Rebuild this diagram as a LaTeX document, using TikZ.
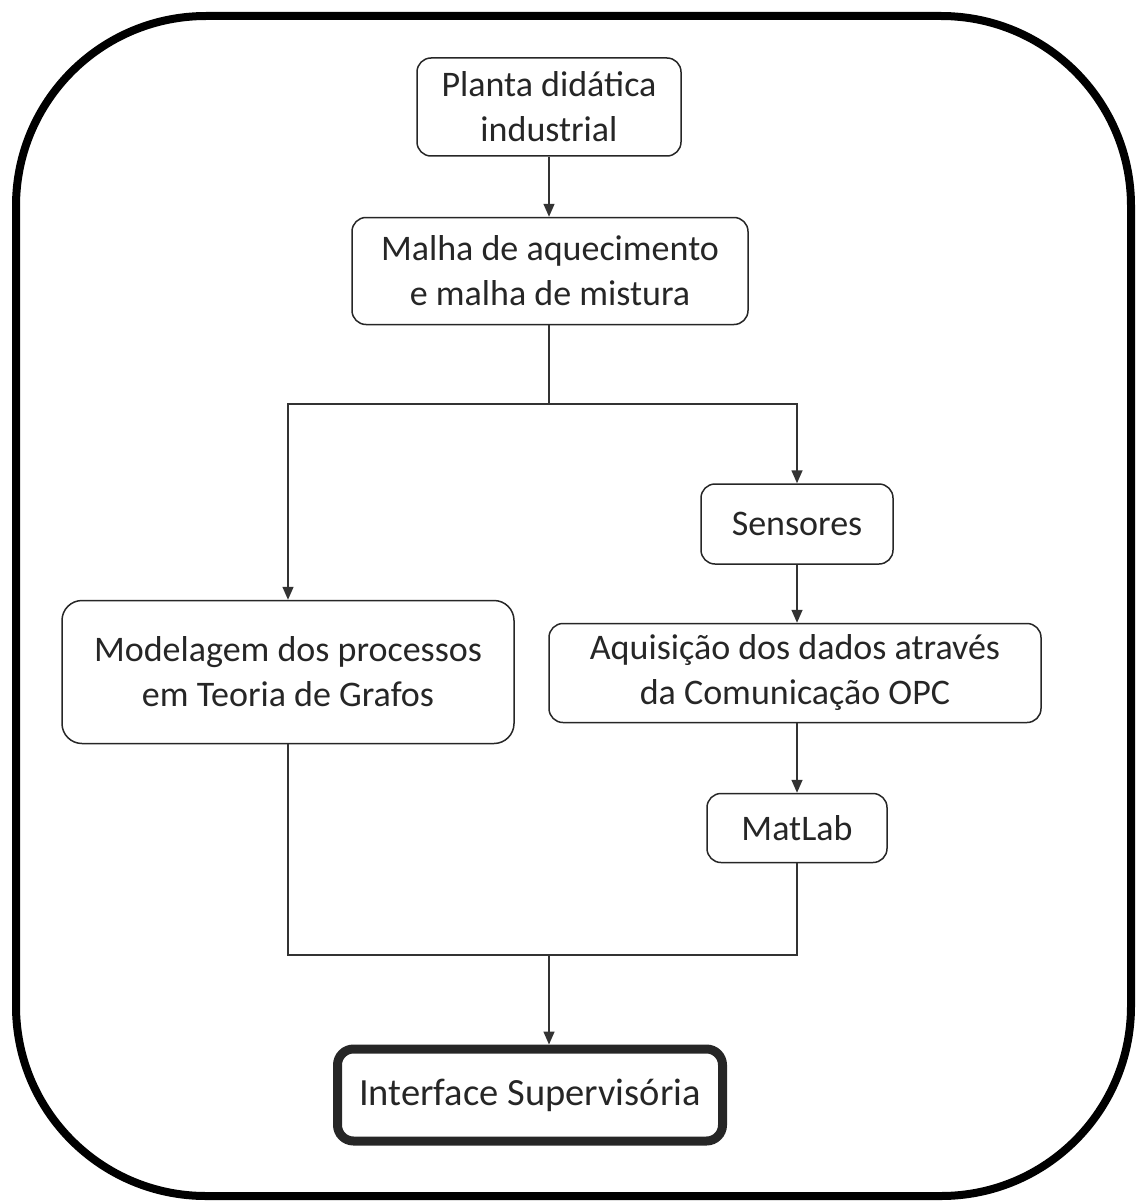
\documentclass[tikz,border=0pt]{standalone}
\usepackage{fontspec}
\setmainfont{Carlito}
\usetikzlibrary{arrows.meta}
\begin{document}
\begin{tikzpicture}[x=1pt,y=-1pt,
  box/.style={draw=black!85, line width=1.5pt, rounded corners=14pt, align=center, inner sep=0pt,
    font=\fontsize{36}{45}\selectfont, text=black!85},
  conn/.style={draw=black!80, line width=1.5pt},
  arr/.style={conn, -{Triangle[length=13pt,width=11pt]}}]
\useasboundingbox (0,0) rectangle (1136,1201);
\draw[line width=8pt, rounded corners=190pt] (16,16) rectangle (1131,1196);

\node[box, minimum width=264pt, minimum height=98pt] (planta) at (549,107) {Planta didática\\industrial};
\node[box, minimum width=396pt, minimum height=107pt] (malha) at (550,271) {Malha de aquecimento\\e malha de mistura};
\node[box, minimum width=452pt, minimum height=143pt, rounded corners=20pt] (modelagem) at (288,672) {Modelagem dos processos\\em Teoria de Grafos};
\node[box, minimum width=192pt, minimum height=80pt] (sensores) at (797,524) {Sensores};
\node[box, minimum width=492pt, minimum height=99pt] (aquisicao) at (795,673) {Aquisição dos dados através\\da Comunicação OPC};
\node[box, minimum width=180pt, minimum height=69pt] (matlab) at (797,828) {MatLab};
\node[box, line width=9pt, minimum width=385pt, minimum height=92pt, rounded corners=16pt,
      font=\fontsize{38.5}{46}\selectfont] (iface) at (530,1095) {Interface Supervisória};

\coordinate (split) at (549,404);
\coordinate (join) at (549,955);

\draw[arr] (planta.south -| 549,0) -- (malha.north -| 549,0);
\draw[conn] (malha.south -| split) -- (split);
\draw[arr] (split) -| (modelagem.north);
\draw[arr] (split) -| (sensores.north);
\draw[arr] (sensores) -- (aquisicao.north -| sensores);
\draw[arr] (aquisicao.south -| matlab) -- (matlab);
\draw[conn] (modelagem.south) |- (join);
\draw[conn] (matlab.south) |- (join);
\draw[arr] (join) -- (join |- iface.north);
\end{tikzpicture}
\end{document}
